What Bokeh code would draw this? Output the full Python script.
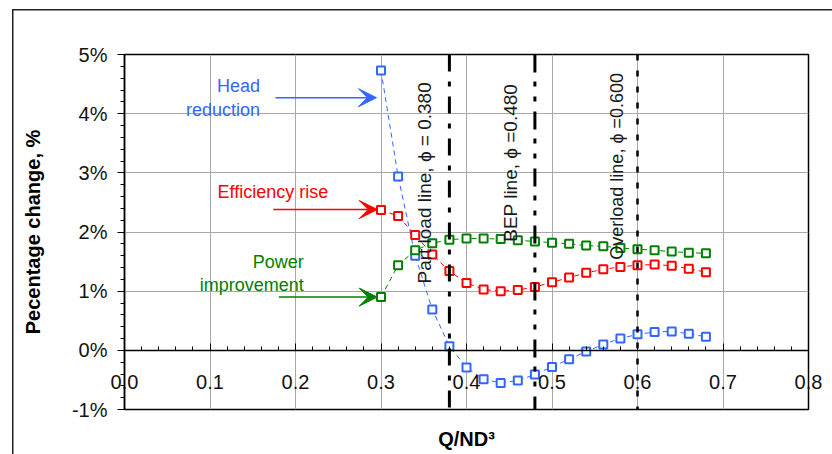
import numpy as np
from bokeh.plotting import figure
from bokeh.models import (Range1d, Span, Label, Arrow, VeeHead, SingleIntervalTicker,
                          CustomJSTickFormatter, PrintfTickFormatter, LinearAxis)
from bokeh.embed import file_html
from bokeh.resources import INLINE

# ---------------- data ----------------
flow_coeff = [0.30, 0.32, 0.34, 0.36, 0.38, 0.40, 0.42, 0.44, 0.46, 0.48,
              0.50, 0.52, 0.54, 0.56, 0.58, 0.60, 0.62, 0.64, 0.66, 0.68]
head_reduction = [4.73, 2.94, 1.60, 0.69, 0.07, -0.29, -0.49, -0.55, -0.51, -0.41,
                  -0.28, -0.15, -0.02, 0.10, 0.20, 0.27, 0.31, 0.32, 0.28, 0.23]
efficiency_rise = [2.37, 2.27, 1.95, 1.62, 1.34, 1.14, 1.03, 1.00, 1.02, 1.07,
                   1.15, 1.23, 1.31, 1.37, 1.41, 1.44, 1.45, 1.43, 1.38, 1.32]
power_improvement = [0.90, 1.44, 1.69, 1.81, 1.87, 1.89, 1.89, 1.88, 1.86, 1.84,
                     1.82, 1.80, 1.77, 1.76, 1.73, 1.71, 1.69, 1.67, 1.65, 1.64]

ref_lines = [0.38, 0.48, 0.60]
ref_labels = ["Part load line, \u03d5 = 0.380", "BEP line, \u03d5 =0.480", "Overload line, \u03d5 =0.600"]

FONT = "Liberation Sans"
BLUE = "#3366ff"
RED = "#ff0000"
GREEN = "#008000"

p = figure(width=832, height=454, x_range=Range1d(0, 0.8), y_range=Range1d(-1, 5),
           output_backend="svg", toolbar_location=None,
           min_border_left=124, min_border_right=24, min_border_top=54, min_border_bottom=45)
p.background_fill_color = "white"
p.border_fill_color = None
p.outline_line_color = "black"
p.outline_line_width = 1.5
# outer frame of the original figure (left and top edges), drawn behind the transparent border
p.styles = {
    "background": ("linear-gradient(#222,#222) 12px 9px / 1.5px 100% no-repeat, "
                   "linear-gradient(#222,#222) 12px 9px / 100% 1.5px no-repeat, white"),
}

# x axis line and ticks drawn at y = 0
xa = p.xaxis[0]
xa.ticker = SingleIntervalTicker(interval=0.1, num_minor_ticks=5)
xa.fixed_location = 0
xa.axis_line_color = "black"
xa.axis_line_width = 1.5
xa.major_tick_in = 7
xa.major_tick_out = 0
xa.minor_tick_in = 4
xa.minor_tick_out = 0
xa.major_tick_line_color = "black"
xa.minor_tick_line_color = "black"
xa.major_label_text_color = None
xa.major_label_text_font_size = "1px"

# x tick labels (inside the frame, below the zero line) and the axis title
xl = LinearAxis(ticker=SingleIntervalTicker(interval=0.1),
                formatter=PrintfTickFormatter(format="%.1f"))
xl.axis_line_color = None
xl.major_tick_line_color = None
xl.minor_tick_line_color = None
xl.major_tick_in = 0
xl.major_tick_out = 0
xl.major_label_text_font = FONT
xl.major_label_text_font_size = "20px"
xl.major_label_text_color = "#111111"
xl.major_label_standoff = -39
xl.axis_label = "Q/ND\u00b3"
xl.axis_label_text_font = FONT
xl.axis_label_text_font_size = "20px"
xl.axis_label_text_font_style = "bold"
xl.axis_label_text_color = "black"
xl.axis_label_standoff = 36
p.add_layout(xl, "below")

ya = p.yaxis[0]
ya.ticker = SingleIntervalTicker(interval=1, num_minor_ticks=5)
ya.formatter = CustomJSTickFormatter(code="return Math.round(tick) + '%';")
ya.axis_line_color = "black"
ya.axis_line_width = 1.5
ya.major_tick_in = 0
ya.major_tick_out = 7
ya.minor_tick_in = 0
ya.minor_tick_out = 4
ya.major_tick_line_color = "black"
ya.minor_tick_line_color = "black"
ya.major_label_text_font = FONT
ya.major_label_text_font_size = "20px"
ya.major_label_text_color = "#111111"
ya.major_label_standoff = 10
ya.axis_label = "Pecentage change, %"
ya.axis_label_text_font = FONT
ya.axis_label_text_font_size = "20px"
ya.axis_label_text_font_style = "bold"
ya.axis_label_text_color = "black"
ya.axis_label_standoff = 25

p.xgrid.ticker = SingleIntervalTicker(interval=0.1)
p.ygrid.ticker = SingleIntervalTicker(interval=1)
p.grid.grid_line_color = "#a8a8a8"
p.grid.grid_line_width = 1

# series
for ys, col in [(head_reduction, BLUE), (efficiency_rise, RED), (power_improvement, GREEN)]:
    p.line(flow_coeff, ys, line_color=col, line_width=1, line_dash="5 4")
for ys, col in [(head_reduction, BLUE), (efficiency_rise, RED), (power_improvement, GREEN)]:
    p.scatter(flow_coeff, ys, marker="square", size=8, line_width=2,
              line_color=col, fill_color="white")

# reference lines
dashes = ["17 10 5 10", "18 9 5 10 5 10", "6 10"]
widths = [3, 3, 2.5]
for loc, d, w in zip(ref_lines, dashes, widths):
    p.add_layout(Span(location=loc, dimension="height", line_color="black",
                      line_width=w, line_dash=d))

label_pos = [(0.3505, 2.83, "19px"), (0.451, 3.17, "19px"), (0.576, 3.11, "18px")]
for (lx, ly, fs), txt in zip(label_pos, ref_labels):
    p.add_layout(Label(x=lx, y=ly, text=txt, angle=np.pi / 2, text_align="center",
                       text_baseline="alphabetic", text_font=FONT, text_font_size=fs,
                       text_color="#1a1a1a"))

# annotations
def add_text(x, y, txt, col, align):
    p.add_layout(Label(x=x, y=y, text=txt, text_align=align, text_baseline="alphabetic",
                       text_font=FONT, text_font_size="18px", text_color=col))

add_text(0.1585, 4.476, "Head", BLUE, "right")
add_text(0.1585, 4.054, "reduction", BLUE, "right")
add_text(0.1088, 2.669, "Efficiency rise", RED, "left")
add_text(0.2097, 1.49, "Power", GREEN, "right")
add_text(0.2097, 1.098, "improvement", GREEN, "right")

for (x0, x1, yy, col) in [(0.1766, 0.2947, 4.27, BLUE), (0.174, 0.2956, 2.38, RED),
                          (0.1805, 0.2956, 0.90, GREEN)]:
    p.add_layout(Arrow(x_start=x0, y_start=yy, x_end=x1, y_end=yy, line_color=col, line_width=1.5,
                       end=VeeHead(size=18, fill_color=col, line_color=col, line_width=1)))

open("out.html", "w").write(file_html(p, INLINE))
